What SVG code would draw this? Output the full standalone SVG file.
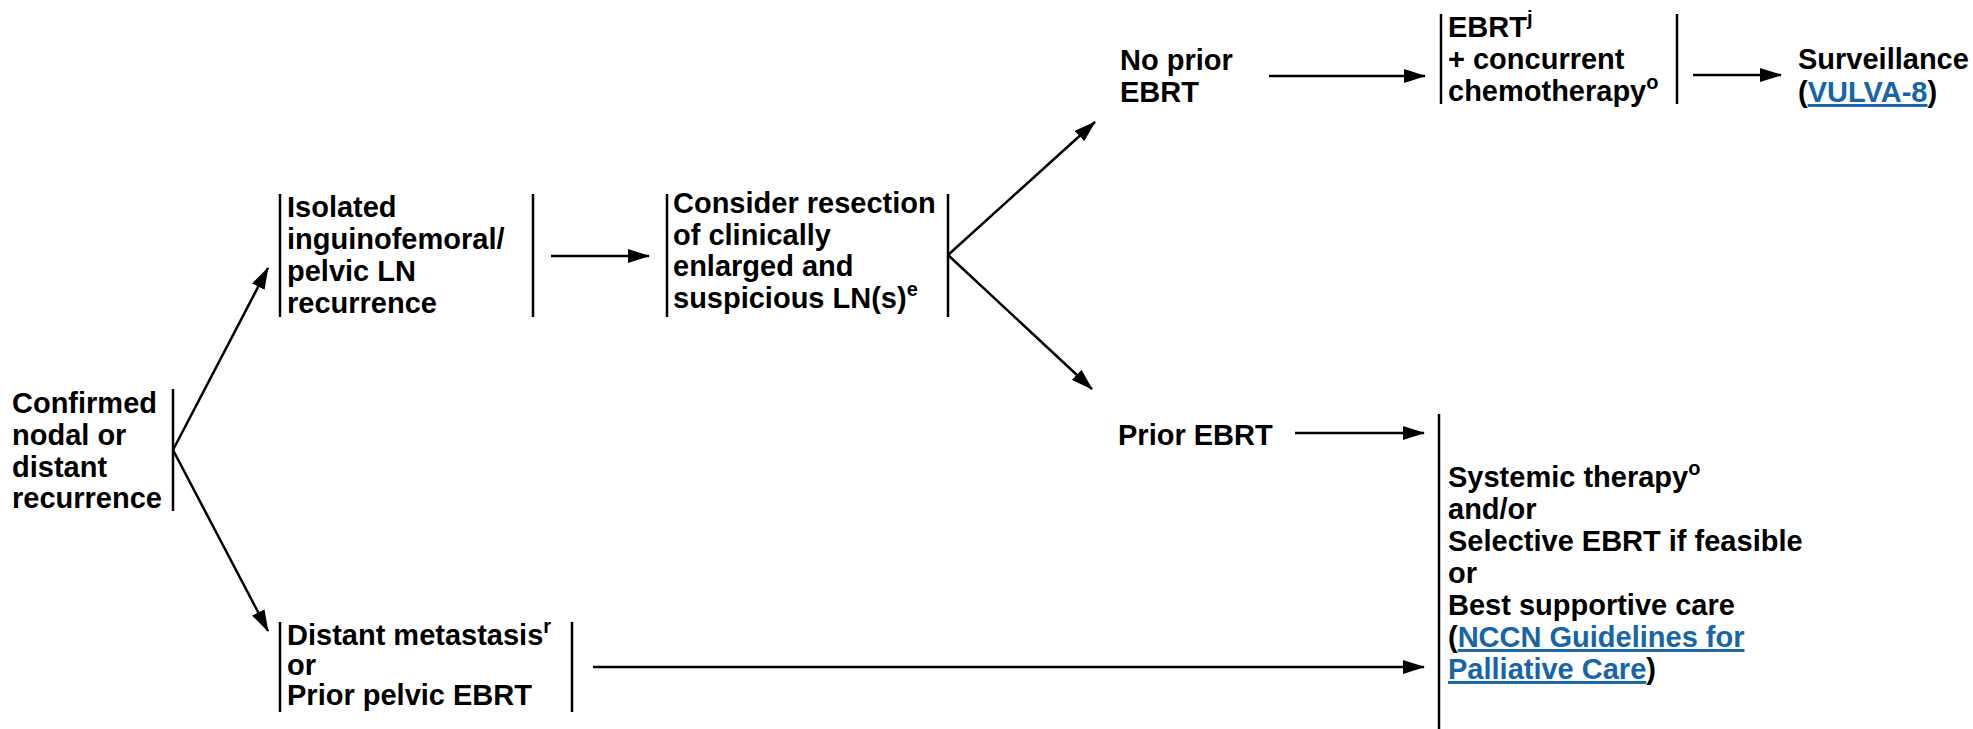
<svg xmlns="http://www.w3.org/2000/svg" width="1973" height="729" viewBox="0 0 1973 729">
<defs>
<style>
text{font-family:"Liberation Sans",Arial,sans-serif;font-weight:bold;font-size:29px;fill:#000}
.sup{font-size:20px}
.link{fill:#1565a8;text-decoration:underline}
.bar{stroke:#000;stroke-width:2.5;fill:none}
.conn line,.conn polyline{stroke:#000;stroke-width:2.5;fill:none}
</style>
<marker id="ah" markerUnits="userSpaceOnUse" markerWidth="22" markerHeight="14" viewBox="0 0 22 14" refX="21" refY="7" orient="auto">
<path d="M0,0 L22,7 L0,14 z" fill="#000"/>
</marker>
</defs>
<rect width="1973" height="729" fill="#fff"/>

<g id="n-confirmed">
<line class="bar" x1="173" y1="389" x2="173" y2="511"/>
<text><tspan x="12" y="413">Confirmed</tspan><tspan x="12" y="445">nodal or</tspan><tspan x="12" y="477">distant</tspan><tspan x="12" y="508">recurrence</tspan></text>
</g>

<g id="n-isolated">
<line class="bar" x1="280" y1="194" x2="280" y2="317"/>
<line class="bar" x1="533" y1="194" x2="533" y2="317"/>
<text><tspan x="287" y="217">Isolated</tspan><tspan x="287" y="249">inguinofemoral/</tspan><tspan x="287" y="281">pelvic LN</tspan><tspan x="287" y="313">recurrence</tspan></text>
</g>

<g id="n-consider">
<line class="bar" x1="667" y1="194" x2="667" y2="317"/>
<line class="bar" x1="948" y1="194" x2="948" y2="317"/>
<text><tspan x="673" y="213">Consider resection</tspan><tspan x="673" y="244.5">of clinically</tspan><tspan x="673" y="276">enlarged and</tspan><tspan x="673" y="307.5">suspicious LN(s)</tspan><tspan class="sup" dy="-12">e</tspan></text>
</g>

<g id="n-distant">
<line class="bar" x1="280" y1="622" x2="280" y2="712"/>
<line class="bar" x1="572" y1="622" x2="572" y2="712"/>
<text><tspan x="287" y="645">Distant metastasis</tspan><tspan class="sup" dy="-12">r</tspan><tspan x="287" y="675">or</tspan><tspan x="287" y="705">Prior pelvic EBRT</tspan></text>
</g>

<g id="n-noprior">
<text><tspan x="1120" y="70">No prior</tspan><tspan x="1120" y="102">EBRT</tspan></text>
</g>

<g id="n-ebrt">
<line class="bar" x1="1441" y1="14" x2="1441" y2="104"/>
<line class="bar" x1="1677" y1="14" x2="1677" y2="104"/>
<text><tspan x="1448" y="37">EBRT</tspan><tspan class="sup" dy="-12">j</tspan><tspan x="1448" y="69">+ concurrent</tspan><tspan x="1448" y="101">chemotherapy</tspan><tspan class="sup" dy="-12">o</tspan></text>
</g>

<g id="n-surveillance">
<text><tspan x="1798" y="69">Surveillance</tspan><tspan x="1798" y="102">(</tspan><tspan class="link">VULVA-8</tspan><tspan>)</tspan></text>
</g>

<g id="n-prior">
<text x="1118" y="445">Prior EBRT</text>
</g>

<g id="n-systemic">
<line class="bar" x1="1439" y1="414" x2="1439" y2="729"/>
<text><tspan x="1448" y="487">Systemic therapy</tspan><tspan class="sup" dy="-12">o</tspan><tspan x="1448" y="519">and/or</tspan><tspan x="1448" y="551">Selective EBRT if feasible</tspan><tspan x="1448" y="583">or</tspan><tspan x="1448" y="615">Best supportive care</tspan><tspan x="1448" y="647">(</tspan><tspan class="link">NCCN Guidelines for</tspan><tspan x="1448" y="679" class="link">Palliative Care</tspan><tspan>)</tspan></text>
</g>

<g id="connectors" class="conn">
<line x1="173" y1="450" x2="268" y2="268" marker-end="url(#ah)"/>
<line x1="173" y1="450" x2="268" y2="631" marker-end="url(#ah)"/>
<line x1="551" y1="256" x2="649" y2="256" marker-end="url(#ah)"/>
<line x1="948" y1="255" x2="1095" y2="122" marker-end="url(#ah)"/>
<line x1="948" y1="255" x2="1092" y2="389" marker-end="url(#ah)"/>
<line x1="1269" y1="76" x2="1425" y2="76" marker-end="url(#ah)"/>
<line x1="1693" y1="75" x2="1781" y2="75" marker-end="url(#ah)"/>
<line x1="1295" y1="433" x2="1424" y2="433" marker-end="url(#ah)"/>
<line x1="593" y1="667" x2="1424" y2="667" marker-end="url(#ah)"/>
</g>
</svg>
